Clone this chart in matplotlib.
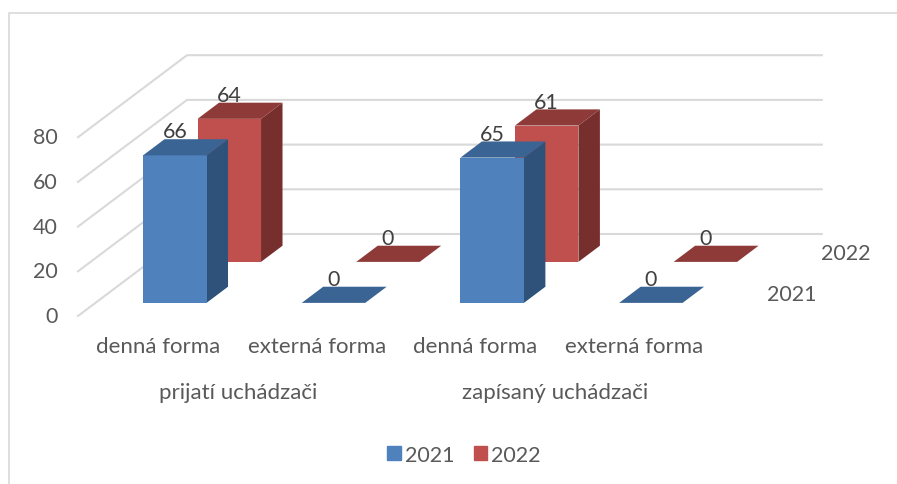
import matplotlib
matplotlib.use("Agg")
import matplotlib.pyplot as plt
from matplotlib.patches import Polygon, Patch

plt.rcParams['font.family'] = ['Lato', 'DejaVu Sans']

years = ["2021", "2022"]
forms = ["denná forma", "externá forma", "denná forma", "externá forma"]
groups = ["prijatí uchádzači", "zapísaný uchádzači"]
values_2021 = [66, 0, 65, 0]
values_2022 = [64, 0, 61, 0]
y_ticks = [0, 20, 40, 60, 80]

# oblique projection of the excel 3d chart, in pixels of the image
X0 = 78
Y0 = 317
CAT_W = 158.7
DEPTH_X = 109
DEPTH_Y = 82
UNIT = 2.235
BAR_W = 0.4
BAR_DEPTH = 0.197

face = ["#4F81BD", "#C0504D"]
side = ["#2F527B", "#772F2D"]
top = ["#3A6493", "#8E3A38"]
GRID = "#D9D9D9"
TEXT = "#404040"
LABEL = "#595959"


def proj(x, v, z):
    return X0 + CAT_W * x + DEPTH_X * z, Y0 - UNIT * v - DEPTH_Y * z


def bar(ax, x, v, z, i):
    x1 = x + BAR_W
    z1 = z + BAR_DEPTH
    if v > 0:
        ax.add_patch(Polygon([proj(x1, 0, z), proj(x1, 0, z1), proj(x1, v, z1), proj(x1, v, z)],
                             fc=side[i], ec="none", zorder=2))
        ax.add_patch(Polygon([proj(x, 0, z), proj(x1, 0, z), proj(x1, v, z), proj(x, v, z)],
                             fc=face[i], ec="none", zorder=2))
    ax.add_patch(Polygon([proj(x, v, z), proj(x1, v, z), proj(x1, v, z1), proj(x, v, z1)],
                         fc=top[i], ec="none", zorder=2))


fig = plt.figure(figsize=(8.97, 4.85), dpi=100)
ax = fig.add_axes([0, 0, 1, 1])
ax.set_xlim(0, 897)
ax.set_ylim(485, 0)
ax.axis("off")

# chart frame
ax.plot([8.5, 8.5, 897], [485, 14, 14], color=GRID, lw=1.2, zorder=1)

# grid on left and back wall
for t in y_ticks:
    xs, ys = zip(proj(0, t, 0), proj(0, t, 1), proj(4, t, 1))
    ax.plot(xs, ys, color=GRID, lw=1.5, solid_joinstyle="miter", zorder=1)
    px, py = proj(0, t, 0)
    ax.text(58, py, str(t), ha="right", va="center", fontsize=15.5, color=LABEL)

# back row first so the front row covers it
rows = [(values_2022, 1, 0.66), (values_2021, 0, 0.16)]
for vals, i, z in rows:
    for c, v in enumerate(vals):
        bar(ax, c + 0.3, v, z, i)
        px, py = proj(c + 0.5, v, z)
        ax.text(px, py - 24, str(v), ha="center", va="center", fontsize=15.5, color=TEXT, zorder=3)

# axis labels
for c, name in enumerate(forms):
    ax.text(158 + c * CAT_W, 347, name, ha="center", va="center", fontsize=16, color=LABEL)
for g, name in enumerate(groups):
    ax.text(238 + g * 2 * CAT_W, 393, name, ha="center", va="center", fontsize=16, color=LABEL)
ax.text(792, 295, years[0], ha="center", va="center", fontsize=15.5, color=LABEL)
ax.text(846, 254, years[1], ha="center", va="center", fontsize=15.5, color=LABEL)

handles = [Patch(color=face[0], label=years[0]), Patch(color=face[1], label=years[1])]
fig.legend(handles=handles, ncol=2, loc="center", bbox_to_anchor=(464 / 897, 1 - 456 / 485),
           frameon=False, fontsize=15.5, labelcolor=LABEL, handlelength=0.62, handleheight=0.62,
           handletextpad=0.2, columnspacing=0.9)

fig.savefig("out.png", dpi=100)
